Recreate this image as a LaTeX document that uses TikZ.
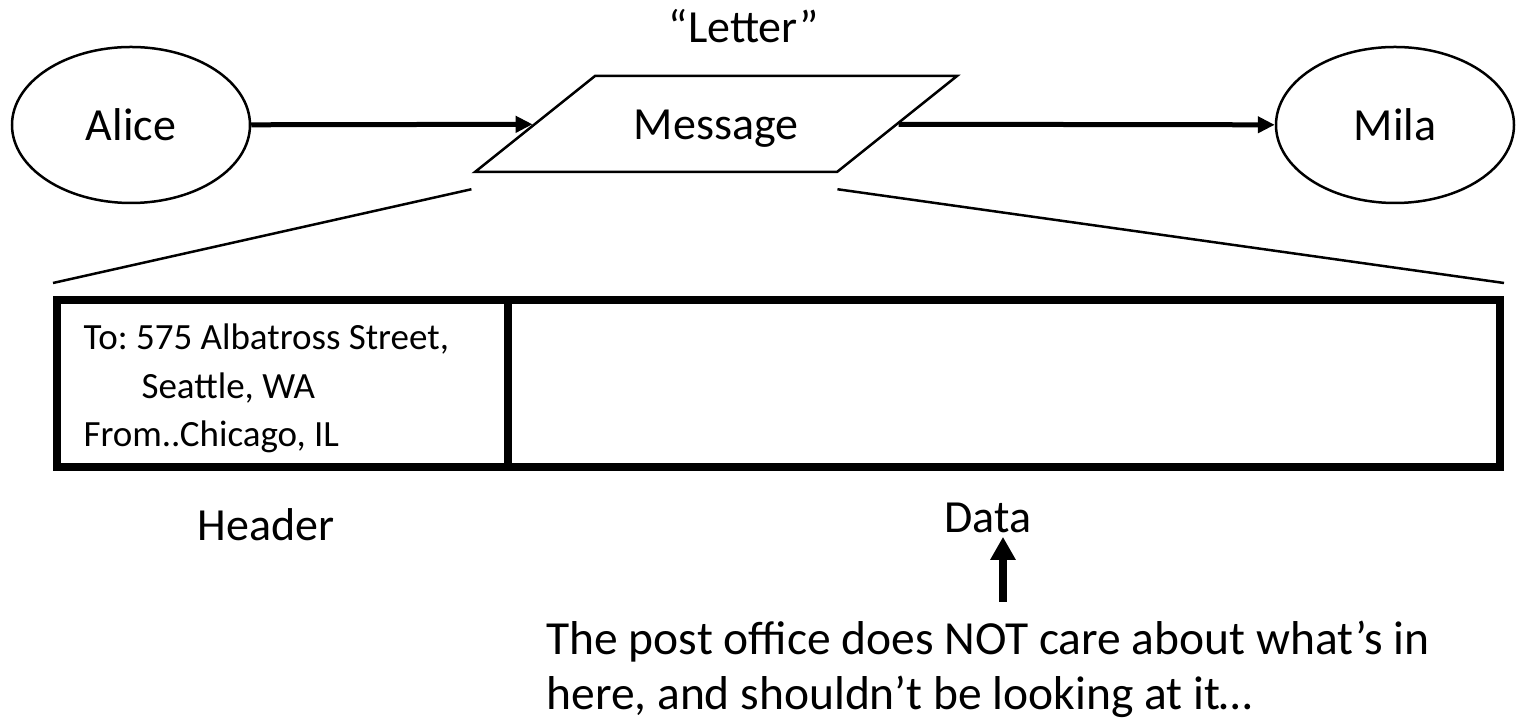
\documentclass[tikz,border=0pt]{standalone}
\usepackage{fontspec}
\setmainfont{Carlito}
\usetikzlibrary{shapes.geometric,arrows.meta}

\begin{document}
\frenchspacing
\begin{tikzpicture}[x=1pt,y=1pt,
		big/.style={font=\fontsize{46}{55}\selectfont},
		party/.style={draw,ellipse,line width=2.5pt,minimum width=238pt,minimum height=156pt,big},
		link/.style={line width=5pt,-{Triangle[length=17pt,width=16pt]}},
		part/.style={draw,line width=8pt,minimum height=167pt,inner sep=0pt},
		fan/.style={line width=2.5pt}]
		\useasboundingbox (0,0) rectangle (1516,722);
		\node[party](alice) at (131,597) {Alice};
		\node[party](mila) at (1395,597) {Mila};
		\node[draw,trapezium,trapezium left angle=38.66,trapezium right angle=141.34,line width=2.5pt,
			text width=172pt,align=center,text height=35pt,text depth=3pt,inner xsep=35pt,inner ysep=29pt,big](msg) at (716,598) {Message};
		\node[big,anchor=base](letter) at (744,679) {“Letter”};
		\node[part,minimum width=451pt](hdr) at (282.5,338.5) {};
		\node[part,minimum width=992pt](body) at (1004,338.5) {};
		\node[anchor=base west,align=left,font=\fontsize{37}{48.5}\selectfont](addr) at (80,275)
			{To: 575 Albatross Street,\\\hspace*{58pt}Seattle, WA\\From..Chicago, IL};
		\node[big,anchor=base](hdrlbl) at (266,181) {Header};
		\node[big,anchor=base](datalbl) at (988,189) {Data};
		\node[anchor=base west,align=left,font=\fontsize{47.5}{55}\selectfont](note) at (543,12)
			{The post office does NOT care about what’s in\\here, and shouldn’t be looking at it…};
		\coordinate (tail) at (1003,120);
		\draw[link]
		(alice) edge (msg)
		(msg) edge (mila);
		\draw[fan] ([yshift=-16pt]msg.bottom left corner) -- ([yshift=13pt]hdr.north west);
		\draw[fan] ([yshift=-16pt]msg.bottom right corner) -- ([yshift=13pt]body.north east);
		\draw[line width=8pt,-{Triangle[length=23pt,width=24pt]}] (tail) -- (tail |- datalbl.south);
\end{tikzpicture}
\end{document}
